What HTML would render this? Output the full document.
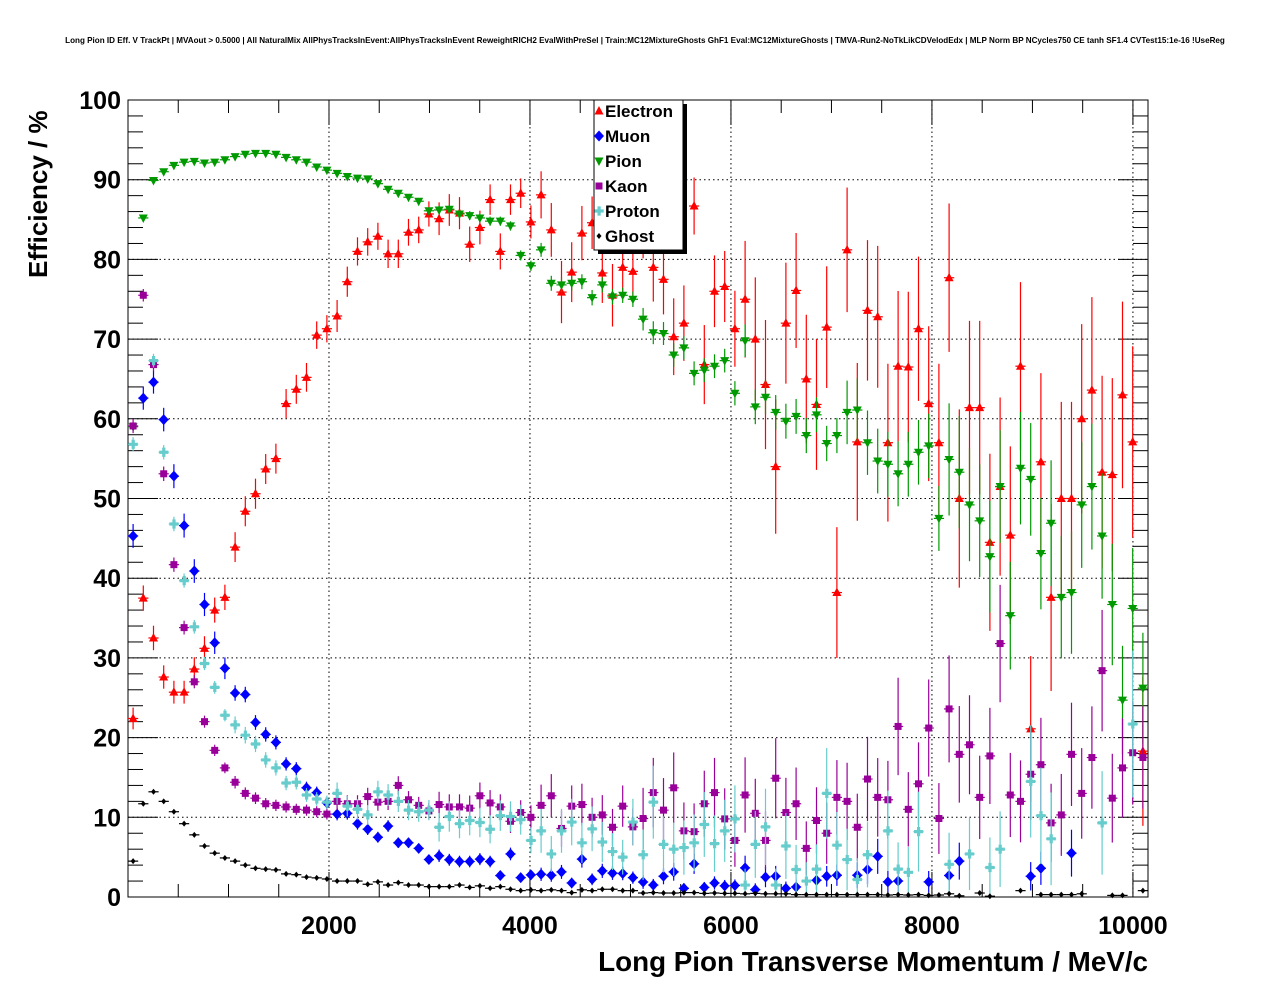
<!DOCTYPE html>
<html><head><meta charset="utf-8"><style>
html,body{margin:0;padding:0;background:#fff;}
svg{display:block;font-family:"Liberation Sans",Arial,sans-serif;}
</style></head><body>
<svg id="chart" width="1276" height="996" viewBox="0 0 1276 996" xmlns="http://www.w3.org/2000/svg">
<rect x="0" y="0" width="1276" height="996" fill="#fff"/>
<text x="645" y="43" font-size="8.1" font-weight="bold" text-anchor="middle">Long Pion ID Eff. V TrackPt | MVAout &gt; 0.5000 | All NaturalMix AllPhysTracksInEvent:AllPhysTracksInEvent ReweightRICH2 EvalWithPreSel | Train:MC12MixtureGhosts GhF1 Eval:MC12MixtureGhosts | TMVA-Run2-NoTkLikCDVelodEdx | MLP Norm BP NCycles750 CE tanh SF1.4 CVTest15:1e-16 !UseReg</text>
<g id="grid"></g>
<g id="axes"></g>
<g id="series"></g>
<text x="1148" y="971" font-size="27.8" font-weight="bold" text-anchor="end">Long Pion Transverse Momentum / MeV/c</text>
<text transform="translate(47,278) rotate(-90)" font-size="26" font-weight="bold" text-anchor="start">Efficiency / %</text>
<g id="legend"></g>
</svg>
<script>
const xTickLabels=["2000","4000","6000","8000","10000"];
const xTickValues=[2000,4000,6000,8000,10000];
const yTickLabels=["0","10","20","30","40","50","60","70","80","90","100"];
const yTickValues=[0,10,20,30,40,50,60,70,80,90,100];
const binWidth=101.5;
const seriesNames=["Electron","Muon","Pion","Kaon","Proton","Ghost"];
const electron=[22.4,37.5,32.5,27.6,25.7,25.7,28.6,31.2,36,37.6,43.9,48.4,50.6,53.7,55,61.9,63.7,65.2,70.5,71.3,72.9,77.2,81,82.2,82.9,80.7,80.7,83.4,83.7,85.7,85.1,86.2,85.8,81.9,84,87.5,81,87.5,88.3,84.7,88.1,83.7,75.9,78.4,83.3,84.6,78.3,75.5,79,78.5,84,79,77.5,70.3,72,86.7,66.8,76,76.6,71.3,75,70,64.3,54,72,76.1,65,61.8,71.5,38.2,81.2,57.1,73.6,72.8,57,66.6,66.5,71.3,61.9,57,77.7,50,61.4,61.4,44.5,51.5,45.4,66.6,21.1,54.6,37.6,50,50,60,63.6,53.3,53,63,57.1,18.3];
const muon=[45.3,62.6,64.6,59.9,52.8,46.6,40.9,36.7,31.9,28.7,25.6,25.4,21.9,20.4,19.4,16.7,16.1,13.7,13.1,11.8,10.4,10.5,9.2,8.5,7.5,8.9,6.8,6.8,6.1,4.7,5.17,4.67,4.45,4.45,4.75,4.45,2.69,5.4,2.43,2.77,2.85,2.73,3.15,1.76,4.75,2.22,3.28,3.0,2.95,2.43,1.88,1.5,2.6,3.15,1.09,4.16,1.2,1.76,1.4,1.45,3.65,0.93,2.5,2.6,1.09,1.26,null,2.1,2.6,2.73,null,2.73,3.44,5.1,1.9,2.0,null,null,1.9,null,2.7,4.5,null,null,null,null,null,null,2.6,3.6,null,null,5.5,null,null,null,null,null,null,null];
const pion=[59,85.2,89.9,91,91.8,92.2,92.3,92.1,92.2,92.5,92.9,93.2,93.3,93.3,93.2,92.8,92.5,92.2,91.6,91.2,90.8,90.4,90.2,90.1,89.5,88.8,88.3,87.8,87.3,86.1,86.2,86.3,85.7,85.5,85.2,84.8,84.8,84.2,80.5,79.2,81.2,77,76.8,77,77.2,75.2,76.8,75.3,75.5,75,72.5,70.8,70.7,68,68.9,65.7,66.1,66.6,67.3,63.2,69.8,61.5,62.7,60.8,59.7,60.3,57.9,60.5,56.9,57.9,60.8,61.1,57,54.7,54.3,53.1,54.3,55.8,56.6,47.5,54.9,53.3,49.2,47.2,42.7,51.5,35.3,53.8,52.4,43.1,46.9,37.6,38.2,49.2,51.5,45.3,36.7,24.7,36.2,26.2];
const kaon=[59.1,75.5,66.8,53.1,41.7,33.8,27.0,22.0,18.4,16.2,14.4,13.0,12.4,11.7,11.5,11.3,11.0,10.9,10.7,10.4,12.0,11.7,11.7,12.6,11.9,12.0,14.0,12.2,11.5,10.8,11.6,11.3,11.3,11.15,12.7,11.8,11.3,9.5,10.6,10.0,11.5,12.7,8.6,11.4,11.6,10.0,10.3,8.75,11.4,8.8,9.85,13.1,10.9,13.7,8.3,8.2,11.7,13.1,9.8,7.1,12.8,10.5,7.1,14.9,10.6,11.7,6.1,9.6,8.0,12.5,12.0,8.75,14.8,12.5,12.2,21.4,11.0,14.2,21.2,9.85,23.6,17.9,19.1,12.5,17.7,31.8,12.8,12.0,15.4,16.6,9.3,10.3,17.9,13.0,17.5,28.4,12.4,16.2,18.1,17.5];
const proton=[56.8,null,67.3,55.8,46.8,39.7,33.9,29.3,26.3,22.8,21.6,20.3,19.2,17.2,16.2,14.3,14.4,12.8,12.3,11.9,13.0,11.4,11.0,10.3,13.2,12.8,12.0,10.9,10.7,10.9,8.75,10.1,9.2,9.6,9.35,8.5,10.2,10.1,9.7,7.1,8.3,5.4,8.3,9.4,6.8,8.55,6.9,5.7,5.0,9.4,5.3,11.9,6.6,6.0,6.2,6.8,9.1,6.7,8.3,9.8,1.5,6.6,8.8,1.5,6.4,3.45,2.0,3.5,13.0,6.5,4.7,2.2,5.3,null,8.3,3.5,3.1,8.2,null,null,4.1,null,5.4,null,3.7,6.0,null,null,14.5,10.2,7.3,null,null,null,null,9.3,null,null,21.7,null];
const ghost=[4.5,11.7,13.2,12.0,10.7,9.2,7.8,6.4,5.5,4.9,4.5,4.0,3.6,3.5,3.4,2.9,2.8,2.5,2.4,2.26,2.0,2.0,2.0,1.6,1.9,1.5,1.8,1.5,1.5,1.3,1.3,1.3,1.5,1.2,1.4,1.1,1.3,0.97,0.8,0.9,0.8,0.9,0.8,0.55,0.9,0.8,0.97,0.97,0.8,0.8,0.5,0.55,0.5,0.5,0.55,0.55,0.45,0.5,0.45,0.45,0.4,0.45,0.4,0.4,0.4,0.3,0.3,0.3,0.3,0.3,0.3,0.3,0.3,0.3,0.25,0.3,0.25,0.3,0.2,0.25,0.4,0.15,null,0.5,0.1,null,null,0.8,null,0.3,0.3,0.3,0.3,0.4,null,null,0.2,0.2,null,0.8];
// effective statistics per 10-bin block (drives error bar size)
const electronN=[930,700,490,300,120,90,35,25,20,17];
const muonN=[1100,2000,1500,800,400,250,150,100,80,60];
const pionN=[20000,15000,8000,4000,2000,1000,500,150,50,40];
const kaonN=[3000,2000,900,400,150,60,50,45,40,35];
const protonN=[3000,1500,600,250,100,50,35,30,25,20];
const ghostN=[50000,50000,50000,50000,50000,50000,50000,50000,50000,50000];

const NS="http://www.w3.org/2000/svg";
const L=128,R=1148,T=100,B=897,XMAX=10150;
function X(v){return L+v*(R-L)/XMAX;}
function Y(v){return B-v*(B-T)/100;}
function mk(tag,attrs,parent){const e=document.createElementNS(NS,tag);for(const k in attrs)e.setAttribute(k,attrs[k]);parent.appendChild(e);return e;}
const grid=document.getElementById('grid'),axes=document.getElementById('axes'),ser=document.getElementById('series'),leg=document.getElementById('legend');

xTickValues.forEach(v=>{if(v<XMAX){const l=mk('line',{x1:X(v),x2:X(v),y1:T,y2:B,stroke:'#000','stroke-width':1,'stroke-dasharray':'1.5,3'},grid);

}});
yTickValues.forEach(v=>{if(v>0&&v<100){const l=mk('line',{x1:L,x2:R,y1:Y(v),y2:Y(v),stroke:'#000','stroke-width':1,'stroke-dasharray':'1.5,3'},grid);

}});

const fr=mk('rect',{x:L,y:T,width:R-L,height:B-T,fill:'none',stroke:'#000','stroke-width':1},axes);


for(let v=0;v<=100;v+=2){const maj=v%10===0;const len=maj?30:15;
mk('line',{x1:L,x2:L+len,y1:Y(v),y2:Y(v),stroke:'#000','stroke-width':1},axes);
mk('line',{x1:R,x2:R-len,y1:Y(v),y2:Y(v),stroke:'#000','stroke-width':1},axes);}
yTickValues.forEach((v,i)=>{const t=mk('text',{x:121,y:Y(v)+9,'font-size':25,'font-weight':'bold','text-anchor':'end'},axes);t.textContent=yTickLabels[i];

});
for(let v=500;v<XMAX;v+=500){const maj=v%2000===0;const len=maj?25:13;
mk('line',{x1:X(v),x2:X(v),y1:B,y2:B-len,stroke:'#000','stroke-width':1},axes);
mk('line',{x1:X(v),x2:X(v),y1:T,y2:T+len,stroke:'#000','stroke-width':1},axes);}
xTickValues.forEach((v,i)=>{const t=mk('text',{x:X(v),y:934,'font-size':25,'font-weight':'bold','text-anchor':'middle'},axes);t.textContent=xTickLabels[i];

});

const styles=[
 {c:'#ff0000',m:'tri'},{c:'#0000ff',m:'dia'},{c:'#009900',m:'tridown'},
 {c:'#990099',m:'sq'},{c:'#66cccc',m:'cross'},{c:'#000000',m:'small'}];
function marker(type,x,y,c,g){
 if(type==='tri') return mk('polygon',{points:`${x},${y-5} ${x-4.5},${y+3.5} ${x+4.5},${y+3.5}`,fill:c},g);
 if(type==='tridown') return mk('polygon',{points:`${x},${y+5} ${x-4.5},${y-3.5} ${x+4.5},${y-3.5}`,fill:c},g);
 if(type==='dia') return mk('polygon',{points:`${x},${y-5.5} ${x+5},${y} ${x},${y+5.5} ${x-5},${y}`,fill:c},g);
 if(type==='sq') return mk('rect',{x:x-3.5,y:y-3.5,width:7,height:7,fill:c},g);
 if(type==='cross') return mk('path',{d:`M${x-4.5},${y-1.6}h3v-3h3.2v3h3v3.2h-3v3h-3.2v-3h-3z`,fill:c},g);
 return mk('polygon',{points:`${x},${y-3} ${x+2.5},${y} ${x},${y+3} ${x-2.5},${y}`,fill:c},g);
}
const allData=[electron,muon,pion,kaon,proton,ghost];
const allN=[electronN,muonN,pionN,kaonN,protonN,ghostN];
const seriesKeys=['electron','muon','pion','kaon','proton','ghost'];
allData.forEach((arr,si)=>{
 const g=mk('g',{},ser);
 
 
 const st=styles[si];
 arr.forEach((v,k)=>{
  if(v===null||v===undefined)return;
  const xc=binWidth/2+binWidth*k;
  const p=Math.min(Math.max(v/100,0.002),0.998);
  const n=allN[si][Math.floor(k/10)];
  const err=100*Math.sqrt(p*(1-p)/n);
  const px=X(xc),py=Y(v);
  const pg=mk('g',{},g);
  
  
  mk('line',{x1:X(xc-binWidth/2),x2:X(xc+binWidth/2),y1:py,y2:py,stroke:st.c,'stroke-width':1.2},pg);
  mk('line',{x1:px,x2:px,y1:Y(Math.min(100,v+err)),y2:Y(Math.max(0,v-err)),stroke:st.c,'stroke-width':1.2},pg);
  marker(st.m,px,py,st.c,pg);
 });
});

mk('rect',{x:598,y:104,width:89,height:150,fill:'#000'},leg);
const lb=mk('rect',{x:594,y:100,width:89,height:150,fill:'#fff',stroke:'#000','stroke-width':1},leg);


seriesNames.forEach((nm,i)=>{
 const y=111+25*i;
 const e=mk('g',{},leg);
 
 
 marker(styles[i].m,599,y,styles[i].c,e);
 const t=mk('text',{x:605,y:y+6,'font-size':17,'font-weight':'bold'},e);t.textContent=nm;
});
</script>
</body></html>
